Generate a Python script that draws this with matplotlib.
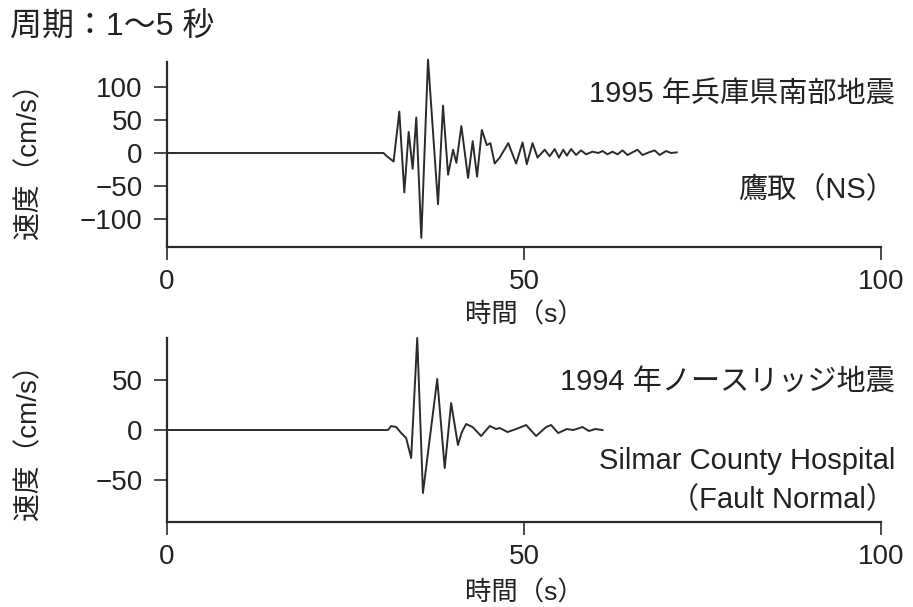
import matplotlib
matplotlib.use("Agg")
import matplotlib.pyplot as plt

plt.rcParams['font.family'] = ['Liberation Sans', 'Noto Sans CJK JP', 'DejaVu Sans']

# 1995 兵庫県南部地震 鷹取(NS) -- 時間(s), 速度(cm/s)
t_kobe = [0, 30.34, 30.81, 31.74, 32.54, 33.24, 33.85, 34.41, 34.92, 35.62,
          36.56, 37.96, 38.66, 39.37, 40.07, 40.53, 41.23, 42.17, 42.82, 43.43,
          44.1, 44.8, 45.3, 45.9, 46.6, 47.8, 48.9, 49.8, 50.4, 51.2,
          51.9, 52.9, 53.6, 54.3, 54.9, 55.5, 56.0, 56.6, 57.3, 58.0,
          58.7, 59.6, 60.4, 61.0, 61.7, 62.4, 63.1, 63.8, 64.5, 65.2,
          65.9, 66.6, 67.5, 68.3, 69.0, 69.9, 70.6, 71.4]
v_kobe = [0, 0, -5, -13, 63, -60, 32, -24, 54, -129,
          142, -78, 72, -33, 5, -15, 41, -38, 18, -36,
          35, 12, 15, -16, -7, 15, -16, 16, -17, 15,
          -7, 5, -5, 6, -7, 5, -4, 6, -3, 4,
          -2, 2, 0, 3, -2, 2, -2, 4, -3, 1,
          5, -3, 1, 4, -3, 3, 0, 1]

# 1994 ノースリッジ地震 Silmar County Hospital (Fault Normal)
t_north = [0, 30.95, 31.4, 32.1, 32.8, 33.5, 34.2, 35.05, 35.85, 37.85,
           38.9, 39.8, 40.75, 41.3, 41.9, 42.8, 44.0, 45.2, 46.1, 46.6,
           47.7, 48.9, 50.3, 51.7, 53.1, 53.8, 54.8, 56.0, 56.9, 58.2,
           59.1, 60.0, 61.0]
v_north = [0, 0, 4, 3, -3, -8, -28, 92, -63, 51,
           -38, 27, -15, -2, 6, 3, -6, 4, 1, 2,
           -2, 1, 5, -6, 3, 5, -3, 1, 0, 3,
           -1, 1, 0]

xticks = [0, 50, 100]
yticks_kobe = [-100, -50, 0, 50, 100]
yticks_north = [-50, 0, 50]

ink = '#2b2b2b'
txt = '#222222'
fig = plt.figure(figsize=(9.13, 6.07), dpi=100)
ax1 = fig.add_axes([0.1829, 0.5931, 0.782, 0.3048])
ax2 = fig.add_axes([0.1829, 0.1400, 0.782, 0.3031])

def style(ax, yticks, ylim, ylab_y, xlab_y):
    ax.set_xlim(0, 100)
    ax.set_ylim(*ylim)
    ax.set_xticks(xticks)
    ax.set_yticks(yticks)
    for s in ['top', 'right']:
        ax.spines[s].set_visible(False)
    for s in ['left', 'bottom']:
        ax.spines[s].set_linewidth(1.6)
        ax.spines[s].set_color(ink)
    ax.tick_params(direction='out', length=9.5, width=1.2, colors=ink,
                   labelsize=20, labelcolor=txt)
    ax.tick_params(axis='x', pad=6)
    ax.tick_params(axis='y', pad=8)
    ax.set_ylabel('速度（cm/s）', fontsize=20, color=txt)
    ax.yaxis.set_label_coords(-0.174, ylab_y)
    ax.set_xlabel('時間（s）', fontsize=19, color=txt, va='center')
    ax.xaxis.set_label_coords(0.5, xlab_y)

ax1.plot(t_kobe, v_kobe, color=ink, lw=1.4, clip_on=False)
style(ax1, yticks_kobe, (-143, 138.5), 0.5, -0.365)

ax2.plot(t_north, v_north, color=ink, lw=1.4, clip_on=False)
style(ax2, yticks_north, (-92, 92), 0.47, -0.385)

fig.text(0.011, 0.954, '周期：1～5 秒', fontsize=23, color=txt,
         ha='left', va='center')

tx = 895 / 913
fig.text(tx, 1 - 94 / 607, '1995 年兵庫県南部地震', fontsize=21, color=txt,
         ha='right', va='center')
fig.text(tx, 1 - 190 / 607, '鷹取（NS）', fontsize=21, color=txt,
         ha='right', va='center')
fig.text(tx, 1 - 382 / 607, '1994 年ノースリッジ地震', fontsize=21, color=txt,
         ha='right', va='center')
fig.text(tx, 1 - 461 / 607, 'Silmar County Hospital', fontsize=21, color=txt,
         ha='right', va='center')
fig.text(tx, 1 - 500 / 607, '（Fault Normal）', fontsize=21, color=txt,
         ha='right', va='center')

fig.savefig('out.png', dpi=100)
